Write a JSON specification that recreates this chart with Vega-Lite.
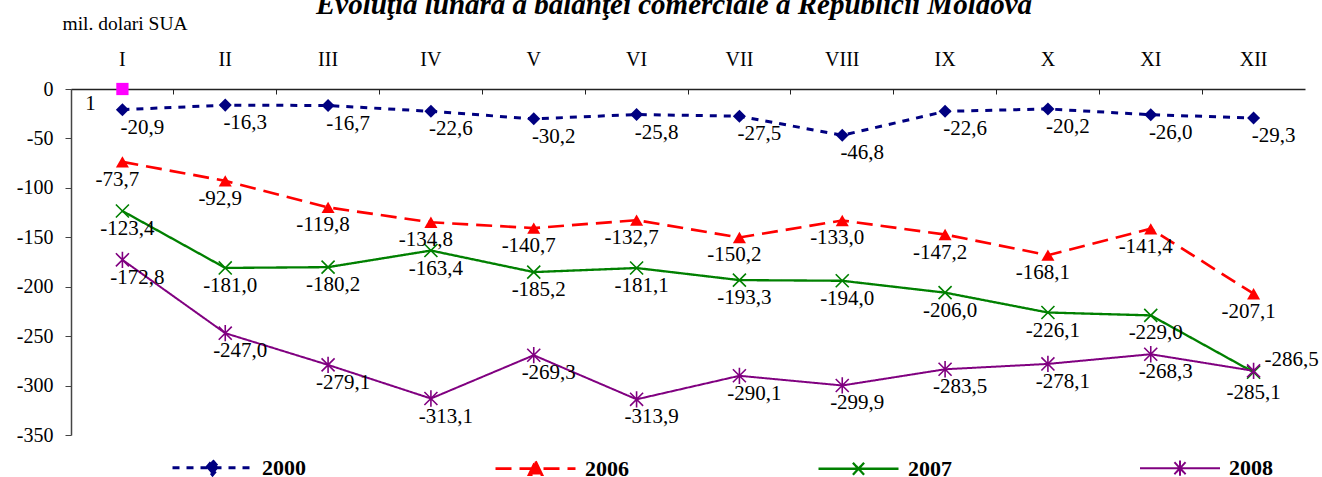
{
  "$schema": "https://vega.github.io/schema/vega-lite/v6.json",
  "autosize": "none",
  "width": 1234,
  "height": 346,
  "padding": {"left": 71, "top": 89, "right": 17, "bottom": 42},
  "background": "white",
  "title": {
    "text": "Evoluţia lunară a balanţei comerciale a Republicii Moldova",
    "font": "Liberation Serif",
    "fontSize": 29,
    "fontWeight": "bold",
    "fontStyle": "italic",
    "color": "black",
    "anchor": "middle",
    "offset": 0,
    "dy": 7,
    "dx": -14
  },
  "config": {
    "view": {"stroke": null},
    "locale": {"number": {"decimal": ",", "thousands": ".", "grouping": [3], "currency": ["", ""], "minus": "-"}},
    "axis": {"labelFont": "Liberation Serif", "titleFont": "Liberation Serif", "labelColor": "black", "titleColor": "black", "grid": false},
    "text": {"font": "Liberation Serif"}
  },
  "data": {
    "values": [
      {"m": "I", "s": "2000", "v": -20.9}, {"m": "II", "s": "2000", "v": -16.3}, {"m": "III", "s": "2000", "v": -16.7}, {"m": "IV", "s": "2000", "v": -22.6}, {"m": "V", "s": "2000", "v": -30.2}, {"m": "VI", "s": "2000", "v": -25.8}, {"m": "VII", "s": "2000", "v": -27.5}, {"m": "VIII", "s": "2000", "v": -46.8}, {"m": "IX", "s": "2000", "v": -22.6}, {"m": "X", "s": "2000", "v": -20.2}, {"m": "XI", "s": "2000", "v": -26.0}, {"m": "XII", "s": "2000", "v": -29.3},
      {"m": "I", "s": "2006", "v": -73.7}, {"m": "II", "s": "2006", "v": -92.9}, {"m": "III", "s": "2006", "v": -119.8}, {"m": "IV", "s": "2006", "v": -134.8}, {"m": "V", "s": "2006", "v": -140.7}, {"m": "VI", "s": "2006", "v": -132.7}, {"m": "VII", "s": "2006", "v": -150.2}, {"m": "VIII", "s": "2006", "v": -133.0}, {"m": "IX", "s": "2006", "v": -147.2}, {"m": "X", "s": "2006", "v": -168.1}, {"m": "XI", "s": "2006", "v": -141.4}, {"m": "XII", "s": "2006", "v": -207.1},
      {"m": "I", "s": "2007", "v": -123.4}, {"m": "II", "s": "2007", "v": -181.0}, {"m": "III", "s": "2007", "v": -180.2}, {"m": "IV", "s": "2007", "v": -163.4}, {"m": "V", "s": "2007", "v": -185.2}, {"m": "VI", "s": "2007", "v": -181.1}, {"m": "VII", "s": "2007", "v": -193.3}, {"m": "VIII", "s": "2007", "v": -194.0}, {"m": "IX", "s": "2007", "v": -206.0}, {"m": "X", "s": "2007", "v": -226.1}, {"m": "XI", "s": "2007", "v": -229.0}, {"m": "XII", "s": "2007", "v": -286.5},
      {"m": "I", "s": "2008", "v": -172.8}, {"m": "II", "s": "2008", "v": -247.0}, {"m": "III", "s": "2008", "v": -279.1}, {"m": "IV", "s": "2008", "v": -313.1}, {"m": "V", "s": "2008", "v": -269.3}, {"m": "VI", "s": "2008", "v": -313.9}, {"m": "VII", "s": "2008", "v": -290.1}, {"m": "VIII", "s": "2008", "v": -299.9}, {"m": "IX", "s": "2008", "v": -283.5}, {"m": "X", "s": "2008", "v": -278.1}, {"m": "XI", "s": "2008", "v": -268.3}, {"m": "XII", "s": "2008", "v": -285.1}
    ]
  },
  "encoding": {
    "x": {
      "field": "m", "type": "nominal",
      "sort": ["I", "II", "III", "IV", "V", "VI", "VII", "VIII", "IX", "X", "XI", "XII"],
      "scale": {"type": "band", "paddingInner": 0, "paddingOuter": 0},
      "axis": {
        "orient": "top", "title": null, "labelAngle": 0,
        "labelFontSize": 20, "bandPosition": 0,
        "tickSize": -5, "labelPadding": 25, "domainColor": "#222", "tickColor": "#222", "domainWidth": 1.5
      }
    },
    "y": {
      "field": "v", "type": "quantitative",
      "scale": {"domain": [-350, 0], "nice": false, "zero": false},
      "axis": {
        "values": [0, -50, -100, -150, -200, -250, -300, -350],
        "labelFontSize": 20, "tickSize": 6, "labelPadding": 12, "domainColor": "#444", "tickColor": "#444", "domainWidth": 1.5,
        "title": "mil. dolari SUA", "titleAngle": 0, "titleAlign": "left", "titleBaseline": "alphabetic",
        "titleX": -9, "titleY": -60, "titleFontSize": 19.5, "titleFontWeight": "normal"
      }
    }
  },
  "layer": [
    {
      "mark": {"type": "line"},
      "encoding": {
        "color": {
          "field": "s", "type": "nominal",
          "scale": {"domain": ["2000", "2006", "2007", "2008"], "range": ["#000080", "#ff0000", "#008000", "#800080"]},
          "legend": {
            "orient": "none", "legendX": 100, "legendY": 337, "direction": "horizontal", "title": null,
            "symbolSize": 6400, "symbolStrokeWidth": 3,
            "labelFont": "Liberation Serif", "labelFontSize": 22, "labelFontWeight": "bold", "labelColor": "black",
            "columnPadding": 184, "labelOffset": 8,
            "encode": {"symbols": {"update": {
              "shape": {"signal": "datum.value === '2000' ? 'M-1,0L1,0M0,-0.18L0.15,0L0,0.18L-0.15,0Z' : datum.value === '2006' ? 'M-1,0L1,0M0,-0.18L0.16,0.15L-0.16,0.15Z' : datum.value === '2007' ? 'M-1,0L1,0M-0.14,-0.15L0.14,0.15M0.14,-0.15L-0.14,0.15' : 'M-1,0L1,0M-0.14,-0.15L0.14,0.15M0.14,-0.15L-0.14,0.15M0,-0.19L0,0.19'"},
              "strokeDash": {"signal": "datum.value === '2000' ? [5,5] : datum.value === '2006' ? [12,8] : [1,0]"},
              "fill": {"signal": "datum.value === '2000' ? '#000080' : datum.value === '2006' ? '#ff0000' : 'transparent'"},
              "strokeWidth": {"signal": "datum.value === '2000' ? 4 : 3"}
            }}}
          }
        },
        "strokeDash": {
          "field": "s", "type": "nominal",
          "scale": {"domain": ["2000", "2006", "2007", "2008"], "range": [[7, 7], [16, 8], [1, 0], [1, 0]]},
          "legend": null
        },
        "strokeWidth": {
          "field": "s", "type": "ordinal",
          "scale": {"domain": ["2000", "2006", "2007", "2008"], "range": [3, 2, 2, 2]},
          "legend": null
        }
      }
    },
    {
      "transform": [{"filter": "datum.s === '2000'"}],
      "mark": {"type": "point", "shape": "diamond", "filled": true, "size": 170, "color": "#000080", "opacity": 1}
    },
    {
      "transform": [{"filter": "datum.s === '2006'"}],
      "mark": {"type": "point", "shape": "triangle-up", "filled": true, "size": 170, "color": "#ff0000", "opacity": 1}
    },
    {
      "transform": [{"filter": "datum.s === '2007'"}],
      "mark": {"type": "point", "shape": "M-1,-1L1,1M1,-1L-1,1", "filled": false, "size": 170, "strokeWidth": 1.6, "color": "#008000", "opacity": 1}
    },
    {
      "transform": [{"filter": "datum.s === '2008'"}],
      "mark": {"type": "point", "shape": "M-1,-1L1,1M1,-1L-1,1M0,-1.25L0,1.25", "filled": false, "size": 170, "strokeWidth": 1.6, "color": "#800080", "opacity": 1}
    },
    {
      "transform": [{"filter": "datum.s === '2000'"}],
      "mark": {"type": "text", "fontSize": 21, "color": "black", "dx": 20, "dy": 18, "baseline": "middle"},
      "encoding": {"text": {"field": "v", "type": "quantitative", "format": ".1f"}}
    },
    {
      "transform": [{"filter": "datum.s === '2006'"}],
      "mark": {"type": "text", "fontSize": 21, "color": "black", "dx": -5, "dy": 18, "baseline": "middle"},
      "encoding": {"text": {"field": "v", "type": "quantitative", "format": ".1f"}}
    },
    {
      "transform": [{"filter": "datum.s === '2007' && datum.m !== 'XII'"}],
      "mark": {"type": "text", "fontSize": 21, "color": "black", "dx": 5, "dy": 18, "baseline": "middle"},
      "encoding": {"text": {"field": "v", "type": "quantitative", "format": ".1f"}}
    },
    {
      "transform": [{"filter": "datum.s === '2007' && datum.m === 'XII'"}],
      "mark": {"type": "text", "fontSize": 21, "color": "black", "dx": 38, "dy": -12, "baseline": "middle"},
      "encoding": {"text": {"field": "v", "type": "quantitative", "format": ".1f"}}
    },
    {
      "transform": [{"filter": "datum.s === '2008' && datum.m !== 'XII'"}],
      "mark": {"type": "text", "fontSize": 21, "color": "black", "dx": 15, "dy": 18, "baseline": "middle"},
      "encoding": {"text": {"field": "v", "type": "quantitative", "format": ".1f"}}
    },
    {
      "transform": [{"filter": "datum.s === '2008' && datum.m === 'XII'"}],
      "mark": {"type": "text", "fontSize": 21, "color": "black", "dx": 0, "dy": 22, "baseline": "middle"},
      "encoding": {"text": {"field": "v", "type": "quantitative", "format": ".1f"}}
    },
    {
      "data": {"values": [{"m": "I", "v": 0, "lab": "1"}]},
      "layer": [
        {"mark": {"type": "point", "shape": "square", "filled": true, "size": 150, "color": "#ff00ff", "opacity": 1}},
        {"mark": {"type": "text", "fontSize": 21, "color": "black", "dx": -32, "dy": 15, "baseline": "middle"}, "encoding": {"text": {"field": "lab"}}}
      ]
    }
  ]
}
